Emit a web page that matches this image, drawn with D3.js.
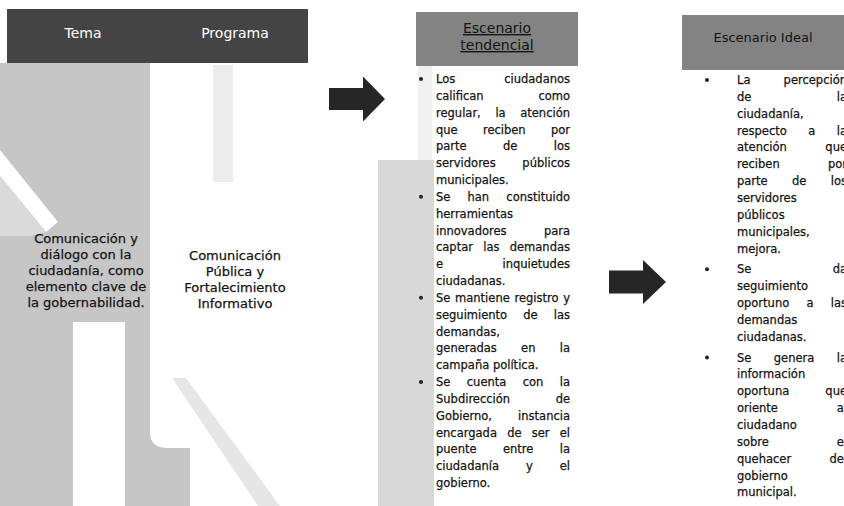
<!DOCTYPE html>
<html><head><meta charset="utf-8">
<script src="https://cdn.jsdelivr.net/npm/d3@7"></script>
<style>html,body{margin:0;padding:0;background:#fff;overflow:hidden}</style>
</head><body><svg id="c" width="844" height="506"></svg>
<script>
const headerLabels = ["Tema", "Programa"];
const temaLines = ["Comunicación y", "diálogo con la", "ciudadanía, como", "elemento clave de", "la gobernabilidad."];
const programaLines = ["Comunicación", "Pública y", "Fortalecimiento", "Informativo"];
const tendencialTitle = ["Escenario", "tendencial"];
const idealTitle = ["Escenario Ideal"];
const tendencialParas = [
  ["Los ciudadanos", "califican como", "regular, la atención", "que reciben por", "parte de los", "servidores públicos", "municipales."],
  ["Se han constituido", "herramientas", "innovadores para", "captar las demandas", "e inquietudes", "ciudadanas."],
  ["Se mantiene registro y", "seguimiento de las", "demandas,", "generadas en la", "campaña política."],
  ["Se cuenta con la", "Subdirección de", "Gobierno, instancia", "encargada de ser el", "puente entre la", "ciudadanía y el", "gobierno."]
];
const idealParas = [
  ["La percepción", "de la", "ciudadanía,", "respecto a la", "atención que", "reciben por", "parte de los", "servidores", "públicos", "municipales,", "mejora."],
  ["Se da", "seguimiento", "oportuno a las", "demandas", "ciudadanas."],
  ["Se genera la", "información", "oportuna que", "oriente al", "ciudadano", "sobre el", "quehacer del", "gobierno", "municipal."]
];

const FONT = "'DejaVu Sans', sans-serif";
const BODY = 11.5;
const INK = "#141414";
const svg = d3.select("#c");
const bg = svg.append("g");

// background shapes (scanned-look greys)
bg.append("rect").attr("x", 0).attr("y", 63).attr("width", 150).attr("height", 443).attr("fill", "#c6c6c6");
bg.append("path").attr("d", "M0,150 L58,222 L46,232 L0,176 Z").attr("fill", "#fff");
bg.append("path").attr("d", "M0,176 L46,232 L30,236 L0,236 Z").attr("fill", "#dadada");
bg.append("rect").attr("x", 73).attr("y", 322).attr("width", 52).attr("height", 184).attr("fill", "#fff");
bg.append("path").attr("d", "M150,432 Q150,448 168,448 L190,448 L190,506 L150,506 Z").attr("fill", "#c6c6c6");
bg.append("path").attr("d", "M172,378 L186,378 L280,506 L258,506 Z").attr("fill", "#e6e6e6");
bg.append("rect").attr("x", 213).attr("y", 65).attr("width", 20).attr("height", 117).attr("fill", "#ececec");
bg.append("rect").attr("x", 378).attr("y", 160).attr("width", 56).attr("height", 346).attr("fill", "#d8d8d8");
bg.append("rect").attr("x", 418).attr("y", 66).attr("width", 14).attr("height", 94).attr("fill", "#f0f0f0");

// header bars
bg.append("rect").attr("x", 7).attr("y", 9).attr("width", 301).attr("height", 54).attr("fill", "#444");
bg.append("rect").attr("x", 416).attr("y", 12).attr("width", 162).attr("height", 54).attr("fill", "#838383");
bg.append("rect").attr("x", 682).attr("y", 15).attr("width", 162).attr("height", 55).attr("fill", "#838383");

// header labels
const headX = d3.scalePoint().domain(headerLabels).range([83, 235]);
svg.append("g").selectAll("text").data(headerLabels).join("text")
  .attr("x", d => headX(d)).attr("y", 38).attr("text-anchor", "middle")
  .attr("font-family", FONT).attr("font-size", 14).attr("fill", "#fff").text(d => d);

const titleY = d3.scaleLinear().domain([0, 1]).range([33, 50]);
svg.append("g").selectAll("text").data(tendencialTitle).join("text")
  .attr("x", 497).attr("y", (d, i) => titleY(i)).attr("text-anchor", "middle")
  .attr("font-family", FONT).attr("font-size", 14).attr("fill", INK)
  .attr("text-decoration", "underline").text(d => d);
svg.append("g").selectAll("text").data(idealTitle).join("text")
  .attr("x", 763).attr("y", 42).attr("text-anchor", "middle")
  .attr("font-family", FONT).attr("font-size", 13).attr("fill", INK).text(d => d);

// arrows
function arrow(x, y, sl, sh, hl, hh) {
  return `M${x},${y - sh / 2} L${x + sl},${y - sh / 2} L${x + sl},${y - hh / 2} L${x + sl + hl},${y} L${x + sl},${y + hh / 2} L${x + sl},${y + sh / 2} L${x},${y + sh / 2} Z`;
}
svg.append("path").attr("d", arrow(329, 99, 34, 22, 22, 45)).attr("fill", "#262626");
svg.append("path").attr("d", arrow(609, 282, 34, 23, 23, 44)).attr("fill", "#262626");

// centered column texts
const temaY = d3.scaleLinear().domain([0, temaLines.length - 1]).range([238, 302]);
svg.append("g").selectAll("text").data(temaLines).join("text")
  .attr("x", 86).attr("y", (d, i) => temaY(i) + 5).attr("text-anchor", "middle")
  .attr("font-family", FONT).attr("font-size", 13).attr("fill", INK)
  .attr("stroke", INK).attr("stroke-width", 0.25).text(d => d);
const progY = d3.scaleLinear().domain([0, programaLines.length - 1]).range([255, 303]);
svg.append("g").selectAll("text").data(programaLines).join("text")
  .attr("x", 235).attr("y", (d, i) => progY(i) + 5).attr("text-anchor", "middle")
  .attr("font-family", FONT).attr("font-size", 13).attr("fill", INK)
  .attr("stroke", INK).attr("stroke-width", 0.25).text(d => d);

// justified paragraphs
function measure(word) {
  const t = svg.append("text").attr("font-family", FONT).attr("font-size", BODY).text(word);
  const w = t.node().getComputedTextLength(); t.remove(); return w;
}
const SPACE = measure("a a") - 2 * measure("a");
function drawJustified(paras, x0, x1, yOf, bulletX) {
  const g = svg.append("g").attr("font-family", FONT).attr("font-size", BODY)
    .attr("fill", INK).attr("stroke", INK).attr("stroke-width", 0.25);
  let idx = 0;
  paras.forEach((lines, p) => {
    lines.forEach((line, i) => {
      const y = yOf(idx, p);
      const words = line.split(" ");
      const widths = words.map(measure);
      const sum = d3.sum(widths);
      const last = i === lines.length - 1 || words.length === 1;
      let gap = last ? SPACE : (x1 - x0 - sum) / (words.length - 1);
      let k = 1;
      if (!last && gap < SPACE * 0.6) { gap = SPACE * 0.6; k = (x1 - x0 - gap * (words.length - 1)) / sum; }
      let x = x0;
      words.forEach((w, j) => {
        const t = g.append("text").attr("x", x).attr("y", y + 4).text(w);
        if (k !== 1) t.attr("textLength", widths[j] * k).attr("lengthAdjust", "spacingAndGlyphs");
        x += widths[j] * k + gap;
      });
      if (i === 0) g.append("circle").attr("cx", bulletX).attr("cy", y).attr("r", 2).attr("stroke", "none").attr("fill", "#222");
      idx++;
    });
  });
}
const tendY = d3.scaleLinear().domain([0, 24]).range([79, 483]);
drawJustified(tendencialParas, 436, 570, (i) => tendY(i), 421);
const idealY = d3.scaleLinear().domain([0, 24]).range([80, 80 + 24 * 16.85]);
drawJustified(idealParas, 737, 847, (i, p) => idealY(i) + p * 4, 707);
</script>
</body></html>
